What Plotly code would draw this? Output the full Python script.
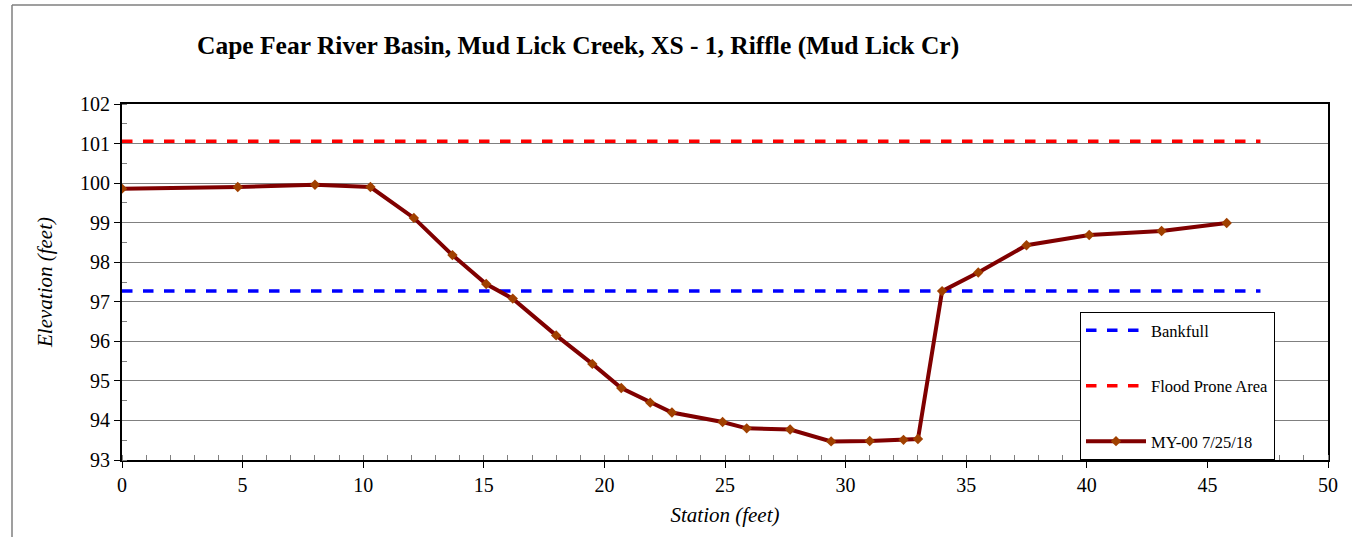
import plotly.graph_objects as go

# Survey data
station = [0.0, 4.8, 8.0, 10.3, 12.1, 13.7, 15.1, 16.2, 18.0, 19.5, 20.7, 21.9, 22.8,
           24.9, 25.9, 27.7, 29.4, 31.0, 32.4, 33.0, 34.0, 35.5, 37.5, 40.1, 43.1, 45.8]
elevation = [99.86, 99.90, 99.96, 99.90, 99.12, 98.18, 97.45, 97.08, 96.15, 95.43, 94.82,
             94.45, 94.20, 93.96, 93.80, 93.77, 93.47, 93.48, 93.51, 93.53, 97.27, 97.74,
             98.43, 98.69, 98.79, 98.99]

bankfull_x = [0.0, 47.2]
bankfull_y = [97.27, 97.27]
flood_x = [0.0, 47.2]
flood_y = [101.06, 101.06]

title = "Cape Fear River Basin, Mud Lick Creek, XS - 1, Riffle (Mud Lick Cr)"
x_ticks = list(range(0, 51, 5))
y_ticks = list(range(93, 103, 1))

W, H = 1352, 537
L, R, T, B = 122, 24, 104, 77
pw, ph = W - L - R, H - T - B

def px_x(p):
    return (p - L) / pw

def px_y(p):
    return 1 - (p - T) / ph

font_family = "Liberation Serif"

fig = go.Figure()
fig.add_trace(go.Scatter(x=bankfull_x, y=bankfull_y, mode="lines", name="Bankfull",
                         line=dict(color="#0000FF", width=3.5, dash="dash"),
                         legendgroup="a"))
fig.add_trace(go.Scatter(x=flood_x, y=flood_y, mode="lines", name="Flood Prone Area",
                         line=dict(color="#FF0000", width=3.5, dash="dash"),
                         legendgroup="b"))
fig.add_trace(go.Scatter(x=station, y=elevation, mode="lines+markers", name="MY-00 7/25/18",
                         line=dict(color="#800000", width=4),
                         marker=dict(symbol="diamond", size=8, color="#A04000"),
                         legendgroup="c"))

fig.update_layout(
    width=W, height=H,
    margin=dict(l=L, r=R, t=T, b=B),
    paper_bgcolor="white", plot_bgcolor="white",
    font=dict(family=font_family, color="black", size=20),
    title=dict(text="<b>" + title + "</b>", x=197 / W, xanchor="left",
               y=1 - 45 / H, yanchor="middle",
               font=dict(family=font_family, size=25.5, color="black")),
    showlegend=True,
    legend=dict(x=px_x(1080), y=px_y(460), xanchor="left", yanchor="bottom",
                bgcolor="white", bordercolor="black", borderwidth=1,
                font=dict(family=font_family, size=16.5, color="black"),
                tracegroupgap=31, itemwidth=60,
                traceorder="grouped"),
    xaxis=dict(range=[0, 50], tickvals=x_ticks, ticks="outside", ticklen=6,
               tickcolor="black", showline=True, linecolor="black", linewidth=2,
               mirror=True, showgrid=False, zeroline=False,
               tickfont=dict(family=font_family, size=20),
               minor=dict(dtick=1, ticks="inside", ticklen=5, tickcolor="gray", showgrid=False),
               title=dict(text="<i>Station (feet)</i>", standoff=12,
                          font=dict(family=font_family, size=21))),
    yaxis=dict(range=[93, 102], tickvals=y_ticks, ticks="outside", ticklen=6,
               tickcolor="black", showline=True, linecolor="black", linewidth=2,
               mirror=True, showgrid=True, gridcolor="#808080", gridwidth=1,
               zeroline=False,
               tickfont=dict(family=font_family, size=20),
               minor=dict(dtick=0.5, ticks="inside", ticklen=5, tickcolor="gray", showgrid=False),
               title=dict(text="<i>Elevation (feet)</i>", standoff=22,
                          font=dict(family=font_family, size=21))),
    shapes=[
        dict(type="line", xref="paper", yref="paper", x0=px_x(12), x1=px_x(W),
             y0=px_y(5), y1=px_y(5), line=dict(color="#7f7f7f", width=1.5)),
        dict(type="line", xref="paper", yref="paper", x0=px_x(12), x1=px_x(12),
             y0=px_y(5), y1=px_y(H), line=dict(color="#7f7f7f", width=1.5)),
    ],
)

fig.write_html("out.html", config={"displayModeBar": False},
               post_script="document.body.style.margin='0';document.body.style.overflow='hidden';")
